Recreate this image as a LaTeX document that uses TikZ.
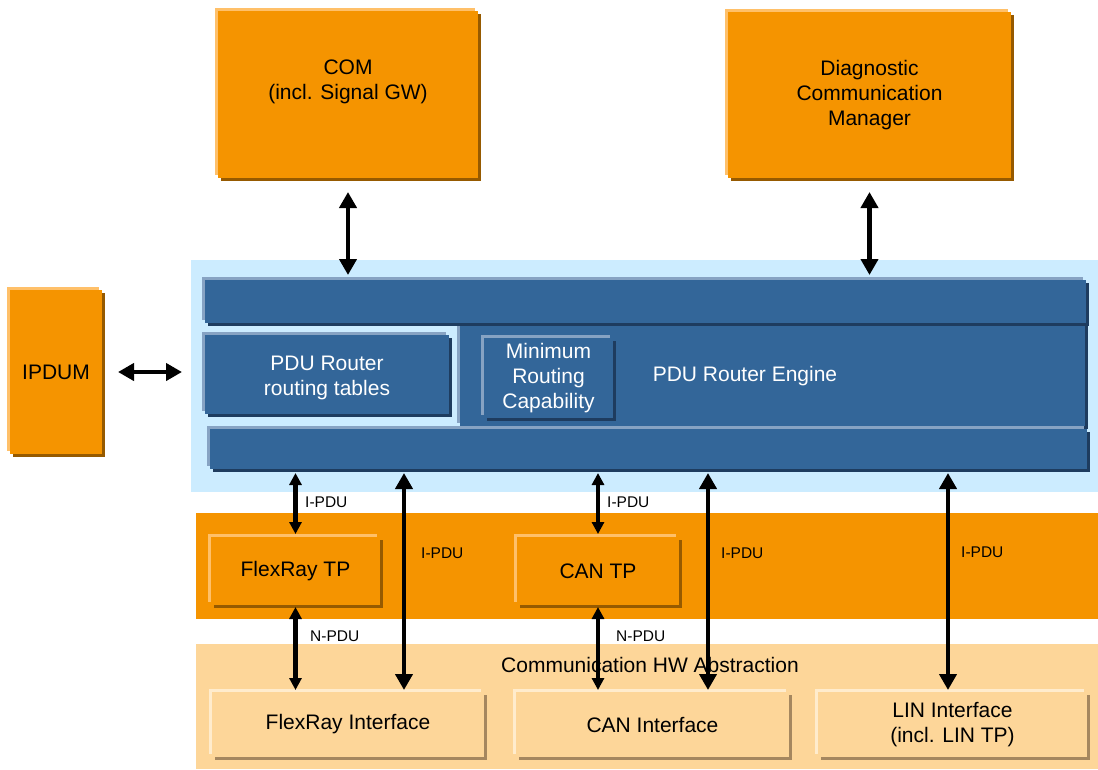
\documentclass[tikz,border=0pt]{standalone}
\usepackage{fontspec}
\setmainfont{Liberation Sans}
\usetikzlibrary{arrows.meta, shadows}

\definecolor{orng}{RGB}{245,148,0}
\definecolor{orngLight}{RGB}{255,192,105}
\definecolor{orngDark}{RGB}{150,90,0}
\definecolor{pale}{RGB}{253,214,153}
\definecolor{paleLight}{RGB}{255,236,205}
\definecolor{paleDark}{RGB}{165,135,95}
\definecolor{routerBlue}{RGB}{51,102,153}
\definecolor{blueLight}{RGB}{135,163,195}
\definecolor{blueDark}{RGB}{30,60,95}
\definecolor{skyBg}{RGB}{204,236,255}

\tikzset{
    bevel/.style 2 args={general shadow={shadow xshift=-3pt, shadow yshift=3pt, fill=#1},
                         general shadow={shadow xshift=3pt, shadow yshift=-3pt, fill=#2}},
    flat/.style={inner sep=0pt, outer sep=0pt},
    orngbox/.style={flat, bevel={orngLight}{orngDark}, fill=orng, align=center},
    bluebox/.style={flat, bevel={blueLight}{blueDark}, fill=routerBlue, text=white, align=center},
    palebox/.style={flat, bevel={paleLight}{paleDark}, fill=pale, align=center},
    bigarrow/.style={line width=4.5pt, {Triangle[length=16pt, width=17pt]}-{Triangle[length=16pt, width=17pt]}},
    smallarrow/.style={line width=4.5pt, {Triangle[length=12pt, width=12pt]}-{Triangle[length=12pt, width=12pt]}},
    pdulabel/.style={anchor=west, inner sep=0pt, font=\fontsize{15.5}{18}\selectfont}
}

\begin{document}
\begin{tikzpicture}[x=1pt, y=-1pt, font=\fontsize{21}{25}\selectfont]
    \useasboundingbox (0,0) rectangle (1098,769);

    \node [flat, fill=skyBg, minimum width=907, minimum height=232] (routerbg) at (644.5,376) {};
    \node [bluebox, minimum width=625, minimum height=103] (engine) at (772.5,374.5) {};
    \node [bluebox, minimum width=881, minimum height=43] (topbar) at (645.5,301.5) {};
    \node [bluebox, minimum width=877, minimum height=40] (botbar) at (648.5,449) {};
    \node [bluebox, minimum width=244, minimum height=79] (tables) at (327,374.5) {};
    \node [text=white, align=center] (tableslabel) at (327,377.5) {PDU Router\\routing tables};
    \node [bluebox, minimum width=129, minimum height=80] (minrc) at (548.5,378) {Minimum\\Routing\\Capability};
    \node [text=white] (enginelabel) at (745,376) {PDU Router Engine};

    \node [orngbox, minimum width=260, minimum height=167] (com) at (348,94.5) {};
    \node [align=center] (comlabel) at (348,82) {COM\\(incl. Signal GW)};
    \node [orngbox, minimum width=283, minimum height=166] (dcm) at (869.5,95) {Diagnostic\\Communication\\Manager};
    \node [orngbox, minimum width=92, minimum height=164] (ipdum) at (56,372) {IPDUM};

    \node [flat, fill=orng, minimum width=902, minimum height=106] (tpband) at (647,566) {};
    \node [orngbox, minimum width=169, minimum height=68] (frtp) at (295.5,571) {FlexRay TP};
    \node [orngbox, minimum width=162, minimum height=68] (cantp) at (598,571) {CAN TP};

    \node [flat, fill=pale, minimum width=902, minimum height=125] (hwband) at (647,706.5) {};
    \node (hwlabel) at (650,665) {Communication HW Abstraction};
    \node [palebox, minimum width=272, minimum height=65] (frif) at (348,724.5) {FlexRay Interface};
    \node [palebox, minimum width=273, minimum height=65] (canif) at (652.5,724.5) {CAN Interface};
    \node [palebox, minimum width=269, minimum height=65] (linif) at (952.5,724.5) {LIN Interface\\(incl. LIN TP)};

    \coordinate (tapfr) at (404,0);
    \coordinate (tapcan) at (708,0);
    \coordinate (taplin) at (948,0);

    \draw [bigarrow, shorten <=14pt, shorten >=5pt] (com.south) -- (com.south |- topbar.north);
    \draw [bigarrow, shorten <=14pt, shorten >=5pt] (dcm.south) -- (dcm.south |- topbar.north);
    \draw [bigarrow, shorten <=16pt, shorten >=9pt] (ipdum.east) -- (routerbg.west |- ipdum.east);

    \draw [smallarrow, shorten <=4pt, shorten >=3pt] (frtp.north |- botbar.south) -- (frtp.north);
    \draw [smallarrow, shorten <=4pt, shorten >=3pt] (cantp.north |- botbar.south) -- (cantp.north);
    \draw [smallarrow, shorten <=2pt, shorten >=2pt] (frtp.south) -- (frtp.south |- frif.north);
    \draw [smallarrow, shorten <=2pt, shorten >=2pt] (cantp.south) -- (cantp.south |- canif.north);

    \draw [bigarrow, shorten <=4pt, shorten >=2pt] (tapfr |- botbar.south) -- (tapfr |- frif.north);
    \draw [bigarrow, shorten <=4pt, shorten >=2pt] (tapcan |- botbar.south) -- (tapcan |- canif.north);
    \draw [bigarrow, shorten <=4pt, shorten >=2pt] (taplin |- botbar.south) -- (taplin |- linif.north);

    \node [pdulabel] (ipdufr) at (305,502) {I-PDU};
    \node [pdulabel] (ipducan) at (607,502) {I-PDU};
    \node [pdulabel] (ipdutapfr) at (421,553) {I-PDU};
    \node [pdulabel] (ipdutapcan) at (721,553) {I-PDU};
    \node [pdulabel] (ipdutaplin) at (961,552) {I-PDU};
    \node [pdulabel] (npdufr) at (310,636) {N-PDU};
    \node [pdulabel] (npducan) at (616,636) {N-PDU};
\end{tikzpicture}
\end{document}
